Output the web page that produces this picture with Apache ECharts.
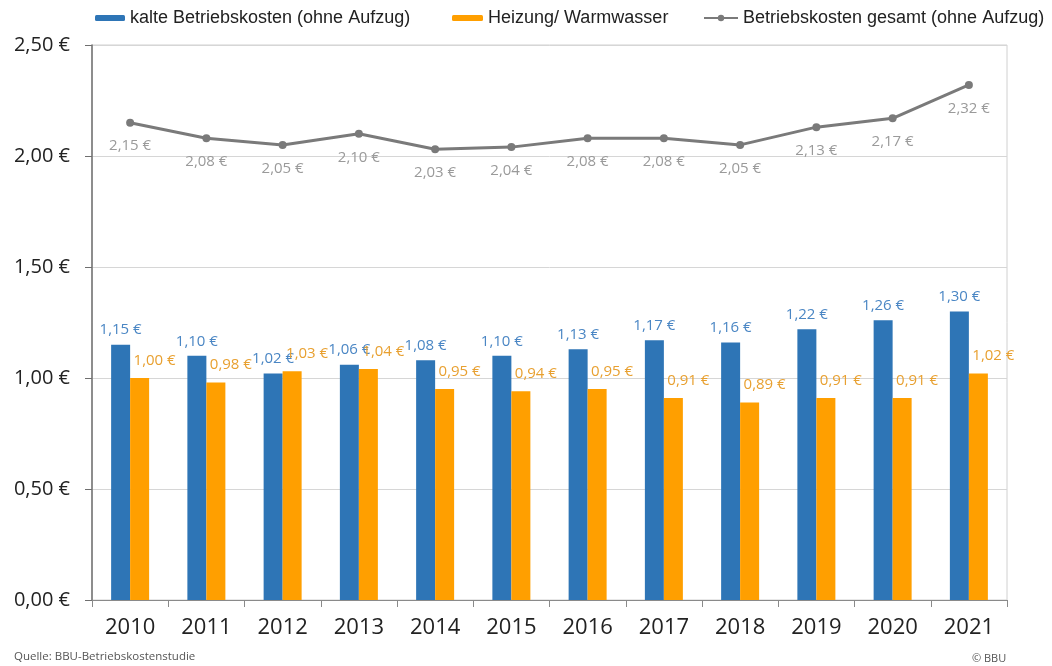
<!DOCTYPE html>
<html><head><meta charset="utf-8">
<script src="https://cdn.jsdelivr.net/npm/echarts@6/dist/echarts.min.js"></script>
<style>html,body{margin:0;padding:0;background:#fff}#c{width:1052px;height:666px}</style>
</head><body><div id="c"></div>
<script>
const years = ['2010','2011','2012','2013','2014','2015','2016','2017','2018','2019','2020','2021'];
const kalte = [1.15,1.10,1.02,1.06,1.08,1.10,1.13,1.17,1.16,1.22,1.26,1.30];
const heizung = [1.00,0.98,1.03,1.04,0.95,0.94,0.95,0.91,0.89,0.91,0.91,1.02];
const gesamt = [2.15,2.08,2.05,2.10,2.03,2.04,2.08,2.08,2.05,2.13,2.17,2.32];
const names = ['kalte Betriebskosten (ohne Aufzug)','Heizung/ Warmwasser','Betriebskosten gesamt (ohne Aufzug)'];

const eur = v => (typeof v === 'object' ? v.value : v).toFixed(2).replace('.', ',') + ' €';
const lblFont = '"Open Sans", Lato, sans-serif';
const legendText = {fontFamily:'"Liberation Sans", Arial, sans-serif', fontSize:18, color:'#222'};

const chart = echarts.init(document.getElementById('c'), null, {renderer:'canvas'});
chart.setOption({
  animation:false,
  backgroundColor:'#fff',
  legend:[
    {data:[names[0]], left:95, top:9, itemWidth:30, itemHeight:6, itemGap:4, textStyle:legendText, padding:0},
    {data:[names[1]], left:452, top:9, itemWidth:31, itemHeight:6, textStyle:legendText, padding:0},
    {data:[names[2]], left:703, top:9, itemWidth:34, itemHeight:8, textStyle:legendText, padding:0}
  ],
  grid:{left:92, right:45, top:45, bottom:66, show:true, borderColor:'#d0d0d0', borderWidth:1},
  xAxis:{type:'category', data:years, boundaryGap:true,
    axisLine:{lineStyle:{color:'#8a8a8a', width:1}},
    axisTick:{show:true, length:7, lineStyle:{color:'#8a8a8a'}},
    axisLabel:{fontFamily:lblFont, fontSize:22, color:'#222', margin:17}},
  yAxis:{type:'value', min:0, max:2.5, interval:0.5,
    axisLine:{show:true, lineStyle:{color:'#6f6f6f', width:1.5}},
    axisTick:{show:true, length:7, lineStyle:{color:'#6f6f6f'}},
    splitLine:{lineStyle:{color:'#d6d6d6'}},
    axisLabel:{fontFamily:lblFont, fontSize:20, color:'#222', margin:22, formatter:v=>eur(v)}},
  series:[
    {name:names[0], type:'bar', data:kalte, barWidth:19, barGap:'0%',
      itemStyle:{color:'#2e75b6'},
      label:{show:true, position:'top', distance:7, formatter:p=>eur(p.value), fontFamily:lblFont, fontSize:15, color:'#4a86c4'}},
    {name:names[1], type:'bar', data:heizung, barWidth:19,
      itemStyle:{color:'#ff9f00'},
      label:{show:true, position:'top', distance:10, offset:[15,0], formatter:p=>eur(p.value), fontFamily:lblFont, fontSize:15, color:'#e8a030'}},
    {name:names[2], type:'line', data:gesamt, symbol:'circle', symbolSize:8,
      lineStyle:{color:'#7a7a7a', width:3}, itemStyle:{color:'#7a7a7a'},
      label:{show:true, position:'bottom', distance:12, formatter:p=>eur(p.value), fontFamily:lblFont, fontSize:15, color:'#9a9a9a'}}
  ],
  graphic:[
    {type:'text', left:14, top:651, style:{text:'Quelle: BBU-Betriebskostenstudie', fontFamily:lblFont, fontSize:11.5, fill:'#555'}},
    {type:'text', left:972, top:653, style:{text:'© BBU', fontFamily:lblFont, fontSize:11, fill:'#555'}}
  ]
});
</script></body></html>
